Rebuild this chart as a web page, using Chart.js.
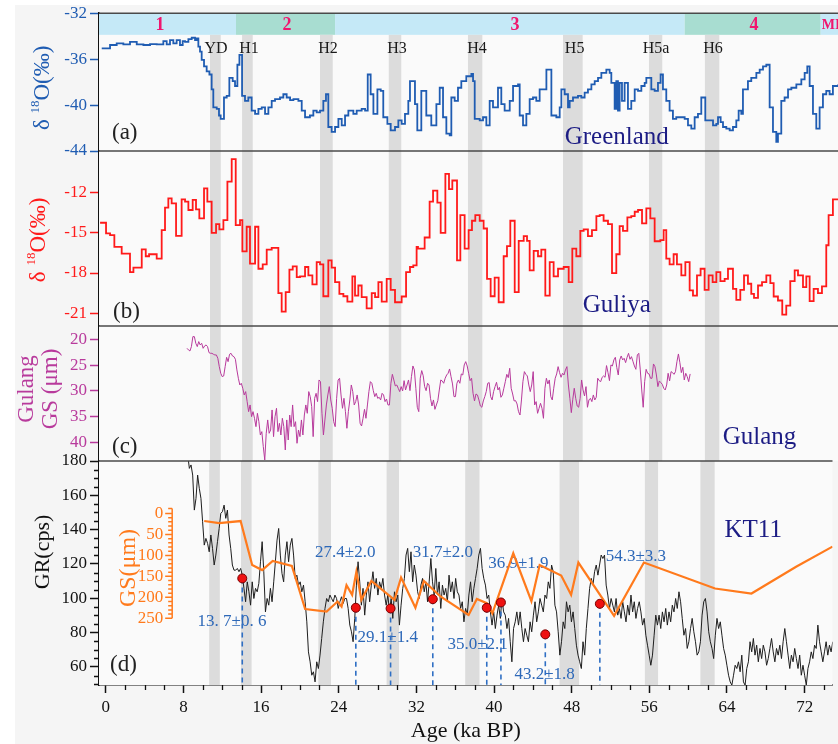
<!DOCTYPE html>
<html><head><meta charset="utf-8">
<script src="https://cdn.jsdelivr.net/npm/chart.js@4.4.1/dist/chart.umd.min.js"></script>
<style>
html,body{margin:0;padding:0;background:#fff;}
#fig{position:relative;width:838px;height:744px;overflow:hidden;background:#fff;}
#bg{position:absolute;left:15px;top:5px;right:0;bottom:0;background:#f5f5f5;}
.pc{position:absolute;left:0;width:838px;}
canvas{display:block;}
</style></head><body>
<div id="fig"><div id="bg"></div>
<div class="pc" style="top:0px;height:165px"><canvas id="ca" width="838" height="165"></canvas></div>
<div class="pc" style="top:137px;height:203px"><canvas id="cb" width="838" height="203"></canvas></div>
<div class="pc" style="top:312px;height:163px"><canvas id="cc" width="838" height="163"></canvas></div>
<div class="pc" style="top:447px;height:297px"><canvas id="cd" width="838" height="297"></canvas></div>
</div>
<script>
// ---------------- DATA ----------------
const X_MIN = -0.7, X_MAX = 74.87;
const X_TICKS = [0, 8, 16, 24, 32, 40, 48, 56, 64, 72];

// Marine isotope stages (top band)
const MIS_LABELS = ['1', '2', '3', '4', 'MIS5'];
const MIS_START = [X_MIN, 13.31, 23.44, 59.19, 73.10];
const MIS_END = [13.31, 23.44, 59.19, 73.10, X_MAX];
const MIS_LABEL_AGE = [5.54, 18.53, 41.84, 66.28, 73.22];

// Heinrich events / YD
const H_EVENTS = ['YD', 'H1', 'H2', 'H3', 'H4', 'H5', 'H5a', 'H6'];
const H_START = [10.65, 13.93, 21.90, 28.93, 37.03, 46.75, 55.54, 61.26];
const H_END = [11.75, 15.02, 23.20, 30.21, 38.50, 48.76, 56.90, 62.73];
const H_LABEL_AGE = [11.27, 14.64, 22.72, 29.78, 37.96, 47.94, 56.26, 62.09];

// (a) Greenland d18O
const GREENLAND_AGE = [-0.42,0.43,1.11,1.79,2.47,3.16,3.84,4.52,5.20,5.88,6.22,6.56,6.90,7.24,7.58,7.86,8.10,8.44,8.78,9.12,9.29,9.46,9.63,9.80,10.04,10.31,10.59,10.82,10.99,11.34,11.57,11.74,12.08,12.36,12.63,12.97,13.21,13.45,13.66,13.93,14.23,14.57,14.91,15.26,15.60,15.94,16.28,16.62,16.96,17.30,17.81,18.15,18.49,18.84,19.18,19.69,20.03,20.37,20.87,21.22,21.56,21.90,22.24,22.51,22.75,23.09,23.44,23.78,24.12,24.46,24.80,25.31,25.65,26.16,26.51,26.78,27.08,27.36,27.77,28.11,28.37,28.79,29.13,29.57,29.91,30.25,30.59,30.93,31.10,31.61,31.85,
32.26,32.77,33.28,33.80,34.14,34.48,34.82,35.16,35.33,35.67,36.01,36.35,36.86,37.38,37.55,37.72,38.23,38.57,38.91,39.25,39.59,40.10,40.44,40.78,41.30,41.64,42.15,42.32,42.66,43.00,43.34,43.68,44.02,44.36,44.70,45.05,45.39,45.56,46.07,46.41,46.58,46.92,47.26,47.43,47.77,48.28,48.62,48.96,49.30,49.65,49.99,50.33,50.67,51.18,51.52,51.69,52.03,52.20,52.37,52.54,52.78,53.05,53.39,53.73,54.08,54.42,54.76,55.10,55.27,55.61,55.78,56.12,56.46,56.73,56.97,57.31,57.65,57.99,58.33,58.85,59.19,59.53,59.87,60.21,60.55,60.89,61.17,61.30,61.74,62.09,62.43,62.60,62.87,63.11,63.45,63.79,64.13,64.47,64.71,64.98,65.15,65.66,66.00,66.52,66.86,67.20,67.54,67.71,67.88,68.22,68.56,68.73,69.07,69.41,69.76,70.10,70.61,71.12,71.46,71.73,71.97,72.31,72.65,72.99,73.33,73.67,74.01,74.35,74.87];
const GREENLAND_D18O = [-35.06,-34.77,-34.63,-34.71,-34.49,-34.71,-34.77,-34.69,-34.71,-34.43,-34.71,-34.34,-34.63,-34.34,-34.77,-34.43,-34.49,-34.26,-34.14,-34.34,-34.2,-34.91,-35.34,-36.06,-36.63,-37.06,-37.34,-38.63,-40.2,-40.34,-40.91,-41.2,-39.34,-39.2,-37.63,-37.91,-38.34,-36.49,-35.63,-39.2,-39.63,-39.34,-40.49,-40.77,-40.34,-40.2,-40.77,-40.2,-39.63,-39.49,-39.34,-39.06,-39.34,-39.57,-39.49,-39.63,-40.49,-41.06,-40.91,-40.49,-40.63,-40.49,-39.63,-39.06,-41.91,-42.34,-41.91,-41.2,-41.77,-40.91,-40.49,-40.77,-40.49,-40.34,-40.49,-37.34,-39.06,-40.77,-38.63,-38.77,-41.06,-41.63,-42.2,-41.91,-41.34,-41.63,-40.77,-39.63,-37.91,-39.91,-42.2,
-38.77,-40.91,-41.77,-39.91,-38.49,-41.06,-42.49,-42.63,-39.34,-39.63,-38.49,-37.91,-37.49,-37.29,-37.91,-41.2,-41.34,-41.06,-41.77,-39.63,-40.2,-38.49,-39.91,-40.49,-39.63,-38.34,-38.2,-40.91,-41.77,-40.77,-39.49,-39.34,-39.63,-38.63,-38.63,-36.91,-36.91,-40.91,-41.06,-40.2,-38.63,-39.06,-40.2,-39.63,-39.34,-39.2,-39.34,-38.91,-38.63,-38.2,-37.91,-37.63,-37.2,-36.91,-37.2,-38.06,-40.34,-37.91,-40.49,-38.06,-39.63,-38.06,-40.34,-39.63,-38.63,-38.77,-38.34,-38.06,-37.63,-37.63,-38.63,-38.77,-38.06,-37.34,-38.63,-39.63,-40.49,-41.2,-41.06,-41.06,-41.2,-41.77,-42.06,-41.06,-40.77,-39.34,-39.34,-41.34,-41.34,-41.77,-41.63,-41.06,-41.49,-41.91,-42.06,-42.2,-41.91,-41.34,-40.49,-40.77,-38.63,-37.91,-37.63,-37.2,-36.91,-36.63,-36.49,-36.49,-40.2,-42.34,-43.2,-42.49,-39.63,-39.34,-38.63,-38.49,-38.2,-37.77,-37.2,-36.63,-38.34,-40.77,-42.06,-40.2,-39.06,-38.77,-39.06,-38.34,-38.2];

// (b) Guliya d18O
const GULIYA_AGE = [-0.59,0.02,0.43,0.87,1.62,2.47,2.82,3.67,4.08,4.42,5.20,5.71,6.05,6.39,6.73,7.18,7.75,8.10,8.44,8.88,9.22,9.56,10.04,10.38,10.82,11.27,11.61,12.02,12.43,12.87,13.28,13.72,13.96,14.40,14.74,15.26,15.60,16.04,16.45,16.96,17.64,17.98,18.39,18.77,19.11,19.52,19.86,20.37,20.71,21.12,21.56,21.90,22.24,22.75,23.09,23.44,23.88,24.29,24.70,25.21,25.48,25.82,26.16,26.67,27.19,27.53,27.87,28.21,28.72,29.13,29.57,30.25,30.70,31.10,31.44,31.78,
31.92,32.60,33.11,33.46,33.90,34.24,34.72,35.09,35.43,35.91,36.25,36.69,37.10,37.44,37.78,38.23,38.63,38.98,39.35,39.76,40.17,40.68,41.02,41.36,41.81,42.22,42.73,43.07,43.34,43.75,44.19,44.53,44.94,45.39,45.79,46.24,46.82,47.33,47.70,48.11,48.52,48.86,49.30,49.71,50.16,50.50,50.90,51.35,51.76,52.20,52.54,52.88,53.33,53.73,54.08,54.42,54.83,55.27,55.68,56.12,56.70,57.04,57.31,57.65,58.06,58.40,58.85,59.26,59.70,60.04,60.45,60.82,61.23,61.64,62.05,62.43,62.84,63.28,63.62,64.13,64.47,64.88,65.26,65.66,66.00,66.28,66.69,67.10,67.54,67.95,68.29,68.73,69.17,69.58,69.99,70.44,70.78,71.29,71.63,71.97,72.38,72.82,73.23,73.67,73.91,74.35,74.87];
const GULIYA_D18O = [-14.25,-15.05,-15.18,-16.05,-16.55,-17.93,-17.6,-16.23,-16.75,-16.6,-16.93,-14.8,-13.13,-12.43,-12.8,-15.23,-12.5,-12.68,-13.3,-12.55,-13.25,-13.93,-11.68,-12.68,-15.0,-14.35,-14.75,-14.05,-11.18,-9.5,-14.43,-14.05,-16.38,-14.55,-17.3,-14.55,-17.68,-17.35,-16.25,-16.13,-19.5,-20.88,-19.43,-17.75,-17.5,-18.3,-18.25,-17.55,-18.18,-18.85,-17.18,-17.35,-19.73,-17.05,-17.6,-18.68,-19.55,-19.73,-20.13,-18.25,-19.68,-18.93,-19.8,-20.63,-19.5,-19.8,-18.68,-20.13,-18.43,-19.25,-20.18,-19.75,-17.93,-17.55,-17.43,-16.05,
-16.18,-15.35,-12.68,-11.85,-12.75,-15.0,-10.6,-11.75,-11.1,-17.05,-13.68,-16.18,-14.8,-14.1,-13.68,-14.1,-14.68,-18.43,-19.73,-18.35,-20.18,-16.75,-16.0,-14.1,-19.43,-15.6,-15.25,-15.6,-17.8,-16.35,-16.75,-16.25,-19.68,-17.18,-18.25,-17.68,-17.55,-18.68,-16.18,-16.75,-14.85,-14.75,-15.25,-14.8,-13.75,-13.68,-14.1,-14.35,-18.0,-16.6,-14.5,-14.85,-13.85,-13.75,-13.43,-13.3,-14.3,-13.18,-13.93,-15.63,-15.55,-14.8,-16.93,-17.35,-16.6,-17.35,-18.18,-17.18,-19.3,-19.68,-18.18,-17.68,-19.25,-18.18,-18.68,-17.93,-18.6,-18.43,-17.68,-19.18,-20.0,-19.25,-18.18,-18.8,-19.55,-19.85,-18.93,-18.68,-18.18,-18.75,-19.75,-20.05,-21.1,-20.43,-18.6,-17.8,-18.18,-19.05,-18.25,-20.1,-19.18,-19.5,-19.0,-15.93,-13.68,-12.5,-12.5];

// (c) Gulang grain size, constant sampling interval
const GULANG_AGE_START = 8.30, GULANG_AGE_STEP = 0.15;
const GULANG_GS = [21.75,22.07,22.27,21.42,19.48,19.48,20.78,21.42,20.45,21.1,20.78,21.75,21.29,21.1,21.42,22.59,22.72,22.72,22.91,23.04,23.04,23.69,25.31,26.6,27.25,27.12,25.31,23.5,24.34,22.91,22.72,23.24,23.37,23.88,25.95,27.57,28.87,28.54,29.51,30.81,30.16,32.1,34.05,32.75,35.02,34.05,35.34,36.96,34.37,36.0,38.58,37.93,40.84,43.43,38.25,35.66,38.25,37.61,33.72,38.9,35.02,33.4,37.93,36.31,38.58,35.34,36.96,41.49,35.66,39.55,34.7,36.96,32.75,36.96,36.0,40.19,37.61,38.9,35.66,38.58,34.7,32.75,34.37,30.16,31.13,33.07,38.9,31.46,30.49,32.1,27.9,28.22,34.37,38.58,35.66,32.75,30.81,29.19,31.78,33.4,36.0,36.96,31.46,27.9,27.57,30.81,33.4,31.46,34.05,37.28,34.05,31.78,28.87,30.16,32.75,32.1,30.81,32.75,36.31,36.83,35.34,33.6,35.34,32.75,30.16,28.22,28.54,29.97,31.13,30.49,31.46,31.26,31.78,30.49,30.81,32.1,31.59,32.75,32.75,28.54,26.8,27.9,29.06,28.87,29.51,30.16,29.19,30.03,28.03,29.84,28.87,27.9,29.97,27.25,25.18,25.95,29.51,33.2,34.05,27.57,26.08,27.06,29.19,29.97,28.54,28.87,31.46,32.95,31.78,33.6,32.75,31.91,29.84,27.9,28.09,28.54,27.57,26.93,26.6,25.76,27.25,28.67,31.13,31.13,28.54,27.9,28.54,26.73,26.93,24.98,24.34,25.18,26.6,28.03,27.57,30.49,31.97,30.62,30.81,31.78,32.95,33.2,31.97,31.13,30.16,28.54,28.41,31.13,31.78,30.16,29.19,28.35,29.84,29.32,31.26,30.81,29.51,28.22,26.8,27.44,25.63,29.51,30.62,31.97,31.91,32.56,34.05,34.7,31.78,28.22,26.28,26.8,27.12,28.87,30.16,28.87,26.28,32.75,32.1,34.37,33.4,32.43,33.4,35.34,29.51,27.57,28.67,27.9,31.13,31.78,29.51,27.57,26.73,25.31,26.47,27.38,26.6,26.93,25.95,25.31,28.87,31.46,34.24,31.65,29.51,31.46,32.95,33.2,31.46,27.9,29.84,31.0,29.19,33.2,31.78,31.46,32.1,30.81,31.78,31.26,27.57,28.03,28.22,27.38,27.12,27.38,25.11,26.47,28.03,24.98,25.18,24.01,23.5,25.5,26.93,24.01,23.24,24.01,23.69,24.53,23.5,22.72,23.88,23.37,24.27,25.18,25.83,23.04,22.72,25.95,29.84,33.2,28.22,25.83,26.6,26.73,27.57,27.57,24.79,25.31,26.93,29.19,28.09,28.41,28.74,29.51,29.84,28.87,26.6,28.09,26.28,26.47,26.8,26.28,24.34,22.85,24.53,26.47,25.44,27.9,26.6,27.25,28.22,26.73];

// (d) KT11 gamma ray, constant sampling interval
const KT11_AGE_START = 8.44, KT11_AGE_STEP = 0.1704;
const KT11_GR = [183.5,175.7,177.7,171.8,151.4,158.2,171.8,164.1,158.2,144.6,131.0,134.9,132.0,127.1,136.9,129.1,119.4,125.2,133.0,140.7,149.5,150.5,154.3,146.6,151.4,136.9,129.1,119.4,116.4,116.4,117.4,115.5,117.4,113.5,105.8,98.0,109.6,103.8,96.0,109.6,99.9,105.8,103.8,108.7,121.3,133.0,115.5,92.1,99.9,96.0,105.8,98.0,109.6,121.3,133.9,140.7,125.2,114.5,109.6,125.2,133.0,121.3,131.0,134.9,125.2,111.6,113.5,107.7,109.6,103.8,107.7,98.0,86.3,68.8,63.0,55.2,57.2,51.3,63.0,59.1,66.9,76.6,86.3,94.1,99.9,98.0,101.9,99.9,98.0,101.9,99.9,94.1,98.0,100.9,97.0,99.9,99.9,94.1,84.4,80.5,74.7,88.3,107.7,121.3,109.6,96.0,105.8,90.2,101.9,109.6,98.0,107.7,115.5,105.8,111.6,101.9,109.6,105.8,111.6,101.9,96.0,101.9,92.1,99.9,88.3,103.8,98.0,101.9,84.4,96.0,105.8,111.6,125.2,129.1,115.5,127.1,109.6,119.4,113.5,103.8,
99.9,107.7,111.6,103.8,109.6,98.0,109.6,123.2,109.6,101.9,117.4,101.9,109.6,94.1,107.7,101.9,105.8,98.0,113.5,103.8,109.6,99.9,111.6,103.8,101.9,94.1,98.0,86.3,94.1,90.2,101.9,109.6,98.0,105.8,111.6,117.4,125.2,129.1,117.4,111.6,107.7,99.9,101.9,92.1,84.4,92.1,82.4,90.2,96.0,88.3,99.9,92.1,90.2,82.4,88.3,74.7,63.0,82.4,86.3,92.1,84.4,92.1,82.4,74.7,82.4,78.5,74.7,86.3,80.5,90.2,98.0,86.3,92.1,99.9,96.0,92.1,101.9,99.9,109.6,105.8,119.4,115.5,96.0,92.1,80.5,66.9,74.7,86.3,82.4,98.0,92.1,96.0,86.3,92.1,82.4,72.7,66.9,63.0,59.1,74.7,66.9,82.4,94.1,105.8,111.6,107.7,115.5,119.4,113.5,119.4,125.2,123.2,125.2,107.7,101.9,94.1,99.9,96.0,92.1,99.9,90.2,94.1,88.3,98.0,92.1,86.3,96.0,90.2,101.9,92.1,98.0,88.3,94.1,98.0,92.1,84.4,88.3,78.5,72.7,66.9,61.0,66.9,78.5,90.2,84.4,90.2,82.4,92.1,86.3,94.1,84.4,92.1,86.3,96.0,92.1,99.9,94.1,103.8,98.0,88.3,78.5,82.4,70.8,74.7,82.4,88.3,80.5,74.7,66.9,68.8,74.7,90.2,98.0,99.9,92.1,80.5,74.7,70.8,64.9,78.5,88.3,82.4,86.3,78.5,70.8,66.9,61.0,55.2,51.3,49.4,55.2,61.0,59.1,63.0,57.2,66.9,51.3,49.4,59.1,63.0,74.7,68.8,76.6,66.9,72.7,63.0,70.8,64.9,72.7,68.8,61.0,64.9,70.8,76.6,68.8,63.0,70.8,66.9,72.7,64.9,74.7,82.4,74.7,66.9,59.1,66.9,63.0,70.8,64.9,59.1,66.9,55.2,61.0,55.2,49.4,59.1,63.0,68.8,64.9,72.7,70.8,84.4,74.7,68.8,63.0,68.8,74.7,66.9,72.7,68.8,74.7];

// (d) KT11 grain size (um)
const KT11_GS_AGE = [10.14,11.68,13.89,15.08,16.11,17.2,19.17,20.54,22.75,23.88,24.29,24.8,25.38,25.82,26.33,27.36,29.74,30.42,31.9,32.77,34.48,37.38,38.23,39.25,39.83,41.98,43.85,44.70,46.92,47.94,48.69,52.37,55.44,62.77,66.52,71.12,74.87];
const KT11_GS = [18,23,18,123,135,113,125,228,234,210,222,171,194,139,206,161,206,153,225,161,198,242,204,214,238,95,209,123,148,194,117,244,117,179,191,127,79];

// (d) OSL dates
const OSL_AGE = [14.06, 25.76, 29.34, 33.69, 39.25, 40.71, 45.28, 50.90];
const OSL_GR = [111.6, 94.5, 94.1, 99.5, 94.5, 97.6, 79.0, 96.8];
const OSL_TEXT = ['13. 7\u00b10. 6', '27.4\u00b12.0', '29.1\u00b11.4', '31.7\u00b12.0', '35.0\u00b12.1', '36.9\u00b11.9', '43.2\u00b11.8', '54.3\u00b13.3'];

// ---------------- STYLE / LAYOUT ----------------
const FONT = "'Liberation Serif','Times New Roman',serif";
Chart.defaults.font.family = FONT;
const PLOT_BG = '#fafafa';
const BAND_GRAY = '#dcdcdc';
const C_BLUE = '#1f5cb2', C_RED = '#ff1a1a', C_MAG = '#b83a9c', C_ORANGE = '#ff7a1c', C_NAVY = '#1c1c84', C_DATE = '#2d68b8', C_STAGE = '#f0166e';
const OSL_TEXT_POS = [[13.0, 86.3], [24.67, 126.4], [29.05, 77.0], [34.73, 126.4], [38.31, 73.3], [42.5, 120.5], [45.21, 55.8], [54.62, 124.2]];

function pts(xs, ys) { const n = Math.min(xs.length, ys.length); const o = []; for (let i = 0; i < n; i++) o.push({x: xs[i], y: ys[i]}); return o; }
function ptsStep(x0, dx, ys) { return ys.map((v, i) => ({x: +(x0 + dx * i).toFixed(3), y: v})); }

function xHidden() { return {type: 'linear', min: X_MIN, max: X_MAX, display: false}; }
function yAxis(min, max, ticks, color, reverse) {
  return {
    type: 'linear', position: 'left', min, max, reverse: !!reverse,
    afterFit(s) { s.width = 99; },
    afterBuildTicks(s) { s.ticks = ticks.map(v => ({value: v})); },
    ticks: {color, font: {size: 17, family: FONT}, padding: 3, autoSkip: false},
    grid: {display: true, drawOnChartArea: false, drawTicks: true, tickLength: 9, tickColor: color, tickWidth: 1.5},
    border: {display: true, color: '#111', width: 1.5}
  };
}
function txt(ctx, s, x, y, size, color, align, bold, baseline) {
  ctx.save(); ctx.font = (bold ? 'bold ' : '') + size + 'px ' + FONT; ctx.fillStyle = color;
  ctx.textAlign = align || 'center'; ctx.textBaseline = baseline || 'middle'; ctx.fillText(s, x, y); ctx.restore();
}
function rotText(ctx, parts, cx, cy) {
  // parts: [text, size, color, raise]
  ctx.save(); ctx.translate(cx, cy); ctx.rotate(-Math.PI / 2); ctx.textBaseline = 'alphabetic';
  let total = 0; const ws = parts.map(p => { ctx.font = p[1] + 'px ' + FONT; const w = ctx.measureText(p[0]).width; total += w; return w; });
  let x = -total / 2; const base = parts[0][1] * 0.34;
  parts.forEach((p, i) => { ctx.font = p[1] + 'px ' + FONT; ctx.fillStyle = p[2]; ctx.fillText(p[0], x, base - (p[3] || 0)); x += ws[i]; });
  ctx.restore();
}
function deltaTitle(color, size) { return [['\u03b4 ', size, color], ['18', Math.round(size * 0.58), color, size * 0.42], ['O(\u2030)', size, color]]; }
function fillBg(chart) { const {ctx, chartArea: a} = chart; ctx.save(); ctx.fillStyle = PLOT_BG; ctx.fillRect(a.left, a.top, a.right - a.left, a.bottom - a.top); ctx.restore(); }
function hBands(chart, topPx) {
  const {ctx, chartArea: a, scales} = chart; const top = topPx == null ? a.top : topPx;
  ctx.save(); ctx.fillStyle = BAND_GRAY;
  for (let i = 0; i < H_EVENTS.length; i++) { const x0 = scales.x.getPixelForValue(H_START[i]), x1 = scales.x.getPixelForValue(H_END[i]); ctx.fillRect(x0, top, x1 - x0, a.bottom - top); }
  ctx.restore();
}
function topLine(chart) { const {ctx, chartArea: a} = chart; ctx.save(); ctx.strokeStyle = '#4a4a4a'; ctx.lineWidth = 1.5; ctx.beginPath(); ctx.moveTo(a.left, a.top); ctx.lineTo(a.right, a.top); ctx.stroke(); ctx.restore(); }
function baseOptions(padding, scales) {
  return {responsive: false, animation: false, events: [], layout: {padding},
    plugins: {legend: {display: false}, tooltip: {enabled: false}}, scales};
}
function lineDs(data, color, width, stepped, yAxisID) {
  return {data, borderColor: color, borderWidth: width, pointRadius: 0, stepped: !!stepped, fill: false, tension: 0, yAxisID: yAxisID || 'y'};
}

// ---------------- PANEL A ----------------
const A_MIN = -44, A_MAX = -32, STAGE_BAND_BOTTOM = -33.885;
new Chart(document.getElementById('ca'), {
  type: 'line',
  data: {datasets: [lineDs(pts(GREENLAND_AGE, GREENLAND_D18O), C_BLUE, 1.8, true)]},
  options: baseOptions({top: 11, bottom: 14, left: 0, right: 0}, {x: xHidden(), y: yAxis(A_MIN, A_MAX, [-32, -36, -40, -44], C_BLUE)}),
  plugins: [{id: 'pa',
    beforeDatasetsDraw(chart) {
      fillBg(chart);
      const {ctx, chartArea: a, scales: {x, y}} = chart;
      const y0 = y.getPixelForValue(A_MAX), y1 = y.getPixelForValue(STAGE_BAND_BOTTOM);
      ctx.save();
      for (let i = 0; i < MIS_LABELS.length; i++) {
        ctx.fillStyle = (i % 2 === 0) ? '#c5e9f7' : '#a8ddd1';
        const x0 = x.getPixelForValue(MIS_START[i]), x1 = x.getPixelForValue(MIS_END[i]);
        ctx.fillRect(x0, y0, x1 - x0, y1 - y0);
      }
      ctx.restore();
      hBands(chart, y1);
      for (let i = 0; i < MIS_LABELS.length; i++) {
        const last = i === MIS_LABELS.length - 1;
        txt(ctx, MIS_LABELS[i], x.getPixelForValue(MIS_LABEL_AGE[i]), (y0 + y1) / 2 + 1, last ? 14 : 18, C_STAGE, last ? 'left' : 'center', true);
      }
      for (let i = 0; i < H_EVENTS.length; i++) txt(ctx, H_EVENTS[i], x.getPixelForValue(H_LABEL_AGE[i]), y.getPixelForValue(-35.06), 16, '#1a1a1a');
    },
    afterDatasetsDraw(chart) {
      const {ctx, scales: {x, y}} = chart;
      txt(ctx, '(a)', x.getPixelForValue(0.63), y.getPixelForValue(-42.46), 23, '#222', 'left');
      txt(ctx, 'Greenland', x.getPixelForValue(52.25), y.getPixelForValue(-42.8), 25, C_NAVY);
      rotText(ctx, deltaTitle(C_BLUE, 23), 41, y.getPixelForValue(-38.5));
      topLine(chart);
    }
  }]
});

// ---------------- PANEL B ----------------
new Chart(document.getElementById('cb'), {
  type: 'line',
  data: {datasets: [lineDs(pts(GULIYA_AGE, GULIYA_D18O), C_RED, 1.8, true)]},
  options: baseOptions({top: 14, bottom: 14, left: 0, right: 0}, {x: xHidden(), y: yAxis(-21.95, -8.9, [-12, -15, -18, -21], C_RED)}),
  plugins: [{id: 'pb',
    beforeDatasetsDraw(chart) { fillBg(chart); hBands(chart); },
    afterDatasetsDraw(chart) {
      const {ctx, scales: {x, y}} = chart;
      txt(ctx, '(b)', x.getPixelForValue(0.74), y.getPixelForValue(-20.9), 23, '#222', 'left');
      txt(ctx, 'Guliya', x.getPixelForValue(52.25), y.getPixelForValue(-20.38), 25, C_NAVY);
      rotText(ctx, deltaTitle(C_RED, 23), 37, y.getPixelForValue(-15.53));
      topLine(chart);
    }
  }]
});

// ---------------- PANEL C ----------------
new Chart(document.getElementById('cc'), {
  type: 'line',
  data: {datasets: [lineDs(ptsStep(GULANG_AGE_START, GULANG_AGE_STEP, GULANG_GS), C_MAG, 1, false)]},
  options: baseOptions({top: 14, bottom: 14, left: 0, right: 0}, {x: xHidden(), y: yAxis(17.42, 43.63, [20, 25, 30, 35, 40], C_MAG, true)}),
  plugins: [{id: 'pc',
    beforeDatasetsDraw(chart) { fillBg(chart); hBands(chart); },
    afterDatasetsDraw(chart) {
      const {ctx, scales: {x, y}} = chart;
      txt(ctx, '(c)', x.getPixelForValue(0.63), y.getPixelForValue(40.91), 23, '#222', 'left');
      txt(ctx, 'Gulang', x.getPixelForValue(66.84), y.getPixelForValue(38.97), 25, C_NAVY);
      rotText(ctx, [['Gulang', 23, C_MAG]], 25, y.getPixelForValue(29.65));
      rotText(ctx, [['GS (\u03bcm)', 23, C_MAG]], 49, y.getPixelForValue(29.65));
      topLine(chart);
    }
  }]
});

// ---------------- PANEL D ----------------
const D_MIN = 49.5, D_MAX = 180;
const GS_MIN = -125.2, GS_MAX = 409.1, GS_AXIS_AGE = 6.84;
const GS_MAJOR = [0, 50, 100, 150, 200, 250];
const dsD = [];
dsD.push({data: pts(OSL_AGE, OSL_GR), showLine: false, pointRadius: 4.5, pointBackgroundColor: '#ee1111', pointBorderColor: '#7a0000', pointBorderWidth: 1, borderColor: '#ee1111', yAxisID: 'y'});
dsD.push(lineDs(pts(KT11_GS_AGE, KT11_GS), C_ORANGE, 2.2, false, 'gs'));
OSL_AGE.forEach((a, i) => {
  const d = lineDs([{x: a, y: OSL_GR[i]}, {x: a, y: D_MIN}], '#2f6fc4', 1.6, false, 'y');
  d.borderDash = [5, 4]; dsD.push(d);
});
dsD.push(lineDs(ptsStep(KT11_AGE_START, KT11_AGE_STEP, KT11_GR), '#1e1e1e', 1, false, 'y'));

const yD = yAxis(D_MIN, D_MAX, [60, 80, 100, 120, 140, 160, 180], '#111');
new Chart(document.getElementById('cd'), {
  type: 'line',
  data: {datasets: dsD},
  options: baseOptions({top: 14, bottom: 0, left: 0, right: 0}, {
    x: {type: 'linear', min: X_MIN, max: X_MAX, position: 'bottom',
      afterBuildTicks(s) { s.ticks = X_TICKS.map(v => ({value: v})); },
      afterFit(s) { s.height = 59; },
      ticks: {color: '#111', font: {size: 17, family: FONT}, padding: 4, maxRotation: 0, autoSkip: false},
      grid: {display: true, drawOnChartArea: false, drawTicks: true, tickLength: 8, tickColor: '#111', tickWidth: 1.5},
      border: {display: true, color: '#111', width: 1.5},
      title: {display: true, text: 'Age (ka BP)', color: '#111', font: {size: 22, family: FONT}, padding: {top: 0, bottom: 0}}
    },
    y: yD,
    gs: {type: 'linear', display: false, min: GS_MIN, max: GS_MAX, reverse: true}
  }),
  plugins: [{id: 'pd',
    beforeDatasetsDraw(chart) {
      fillBg(chart); hBands(chart);
      const {ctx, scales: {x, y}} = chart;
      OSL_TEXT.forEach((t, i) => txt(ctx, t, x.getPixelForValue(OSL_TEXT_POS[i][0]), y.getPixelForValue(OSL_TEXT_POS[i][1]), 17, C_DATE));
    },
    afterDatasetsDraw(chart) {
      const {ctx, chartArea: a, scales: {x, y, gs}} = chart;
      txt(ctx, '(d)', x.getPixelForValue(0.43), y.getPixelForValue(61.2), 23, '#222', 'left');
      txt(ctx, 'KT11', x.getPixelForValue(66.7), y.getPixelForValue(139.8), 25, C_NAVY);
      topLine(chart);
      // minor ticks
      ctx.save(); ctx.strokeStyle = '#111'; ctx.lineWidth = 1.3; ctx.beginPath();
      for (let v = 50; v <= 180; v += 5) { if (v % 20 === 0) continue; const py = Math.round(y.getPixelForValue(v)) + 0.5; ctx.moveTo(a.left - 5, py); ctx.lineTo(a.left, py); }
      for (let v = 2; v <= 74; v += 2) { if (v % 8 === 0) continue; const px = Math.round(x.getPixelForValue(v)) + 0.5; ctx.moveTo(px, a.bottom); ctx.lineTo(px, a.bottom + 5); }
      ctx.stroke(); ctx.restore();
      // GS axis inside panel
      const gx = x.getPixelForValue(GS_AXIS_AGE);
      ctx.save(); ctx.strokeStyle = C_ORANGE; ctx.lineWidth = 1.5; ctx.beginPath();
      ctx.moveTo(gx, gs.getPixelForValue(-12)); ctx.lineTo(gx, gs.getPixelForValue(250));
      for (let v = 0; v <= 250; v += 10) { const py = gs.getPixelForValue(v); const L = (v % 50 === 0) ? 7 : 4; ctx.moveTo(gx - L, py); ctx.lineTo(gx, py); }
      ctx.moveTo(gx - 4, gs.getPixelForValue(-12)); ctx.lineTo(gx, gs.getPixelForValue(-12));
      ctx.stroke(); ctx.restore();
      GS_MAJOR.forEach(v => txt(ctx, String(v), gx - 9, gs.getPixelForValue(v), 17, C_ORANGE, 'right'));
      rotText(ctx, [['GS(\u03bcm)', 24, C_ORANGE]], 127, gs.getPixelForValue(130));
      rotText(ctx, [['GR(cps)', 22, '#111']], 42, y.getPixelForValue(127));
    }
  }]
});
</script>
</body></html>
